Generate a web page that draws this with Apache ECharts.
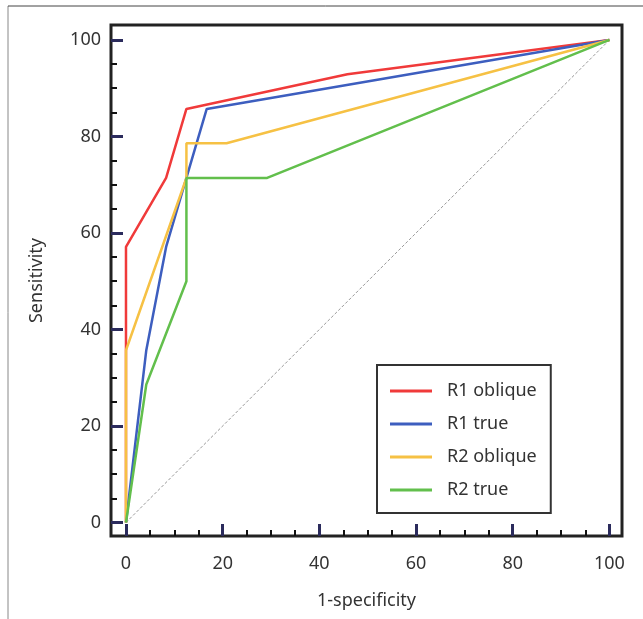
<!DOCTYPE html>
<html>
<head>
<meta charset="utf-8">
<script src="https://cdn.jsdelivr.net/npm/echarts@6/dist/echarts.min.js"></script>
<style>
  html, body { margin: 0; padding: 0; background: #fff; }
  #chart { width: 643px; height: 619px; }
</style>
</head>
<body>
<div id="chart"></div>
<script>
  // ROC curve points: [1-specificity, sensitivity]
  const r1Oblique = [[0, 0], [0, 57.1], [8.3, 71.4], [12.5, 85.7], [45.8, 92.9], [100, 100]]
  const r1True = [[0, 0], [4.2, 35.7], [8.3, 57.1], [12.5, 71.4], [16.7, 85.7], [100, 100]]
  const r2Oblique = [[0, 0], [0, 35.7], [12.5, 71.4], [12.5, 78.6], [20.8, 78.6], [100, 100]]
  const r2True = [[0, 0], [4.2, 28.6], [12.5, 50], [12.5, 71.4], [29.2, 71.4], [100, 100]]
  const diagonal = [[0, 0], [100, 100]]

  const seriesNames = ['R1 oblique', 'R1 true', 'R2 oblique', 'R2 true']
  const colors = ['#f03a3a', '#3d5ebf', '#f6c144', '#62bf4c']
  const majorTicks = [0, 20, 40, 60, 80, 100]
  const minorTicks = [5, 10, 15, 25, 30, 35, 45, 50, 55, 65, 70, 75, 85, 90, 95]

  const font = 'Noto Sans'
  const chart = echarts.init(document.getElementById('chart'))

  const gridBox = { left: 111, right: 21, top: 25, bottom: 83 }

  function majorAxis (name, gap) {
    return {
      type: 'value',
      gridIndex: 0,
      name: name,
      nameLocation: 'middle',
      nameGap: gap,
      nameTextStyle: { fontFamily: font, fontSize: 18, color: '#333' },
      axisLine: { show: false, onZero: false },
      splitLine: { show: false },
      axisTick: {
        show: true,
        inside: true,
        length: 12,
        customValues: majorTicks,
        lineStyle: { color: '#2b2b5c', width: 3 }
      },
      axisLabel: {
        customValues: majorTicks,
        fontFamily: font,
        fontSize: 18,
        color: '#333'
      }
    }
  }

  // small ticks live on a second, empty grid laid over the first one
  function minorAxis (side) {
    return {
      type: 'value',
      gridIndex: 1,
      position: side,
      axisLine: { show: false, onZero: false },
      splitLine: { show: false },
      axisLabel: { show: false },
      axisTick: {
        show: true,
        inside: true,
        length: 6,
        customValues: minorTicks,
        lineStyle: { color: '#111', width: 2 }
      }
    }
  }

  const xMajor = majorAxis('1-specificity', 56)
  xMajor.position = 'bottom'
  xMajor.min = -3.1
  xMajor.max = 102.6
  xMajor.axisLabel.margin = 19
  const xMinor = minorAxis('bottom')
  xMinor.min = -3.1
  xMinor.max = 102.6

  const yMajor = majorAxis('Sensitivity', 65)
  yMajor.position = 'left'
  yMajor.min = -2.8
  yMajor.max = 103.1
  yMajor.axisLabel.margin = 10
  const yMinor = minorAxis('left')
  yMinor.min = -2.8
  yMinor.max = 103.1

  const curves = [r1Oblique, r1True, r2Oblique, r2True]
  const series = [{
    name: 'chance',
    type: 'line',
    data: diagonal,
    showSymbol: false,
    silent: true,
    lineStyle: { color: '#999', width: 1, type: [3, 2] }
  }]
  curves.forEach(function (d, i) {
    series.push({
      name: seriesNames[i],
      type: 'line',
      data: d,
      showSymbol: false,
      color: colors[i],
      lineStyle: { color: colors[i], width: 2.5 }
    })
  })

  chart.setOption({
    animation: false,
    backgroundColor: '#fff',
    grid: [
      Object.assign({ show: true, borderColor: '#222', borderWidth: 3 }, gridBox),
      Object.assign({ show: false }, gridBox)
    ],
    xAxis: [xMajor, xMinor],
    yAxis: [yMajor, yMinor],
    legend: {
      data: seriesNames,
      orient: 'vertical',
      left: 377,
      top: 365,
      padding: [16, 14, 13, 13],
      borderColor: '#333',
      borderWidth: 2,
      itemWidth: 42,
      itemHeight: 3,
      itemGap: 13,
      icon: 'rect',
      textStyle: {
        fontFamily: font,
        fontSize: 18,
        lineHeight: 20,
        color: '#333',
        padding: [0, 0, 0, 10]
      }
    },
    graphic: [
      { type: 'line', shape: { x1: 8, y1: 6, x2: 8, y2: 619 }, style: { stroke: '#888', lineWidth: 1 } },
      { type: 'line', shape: { x1: 8, y1: 6, x2: 643, y2: 6 }, style: { stroke: '#444', lineWidth: 1 } }
    ],
    series: series
  })
</script>
</body>
</html>
